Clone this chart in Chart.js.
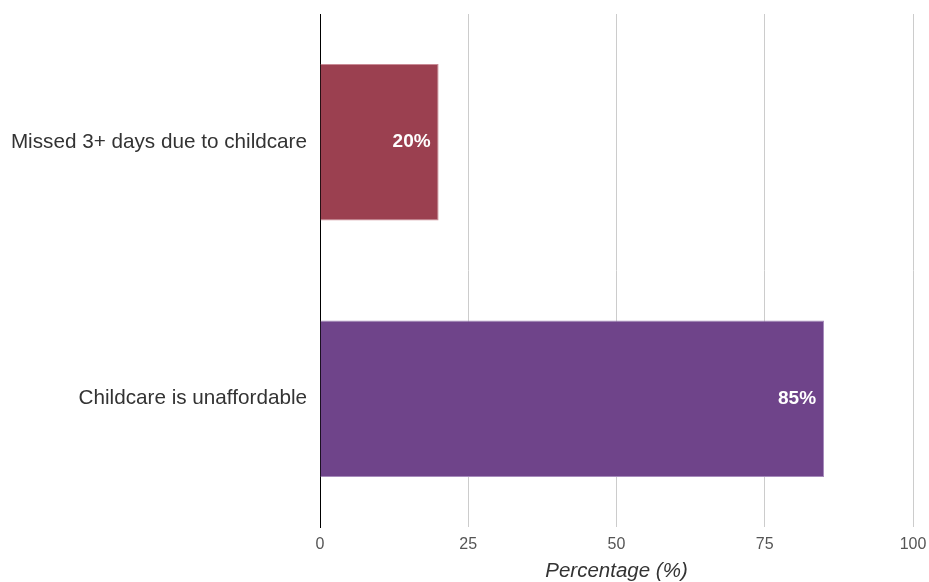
<!DOCTYPE html>
<html lang="en">
<head>
    <meta charset="UTF-8">
    <title>Childcare Survey</title>
    <style>
        body {
            margin: 0;
            padding: 0;
            background: #fff;
        }
        .chart-box {
            width: 929px;
            height: 582px;
        }
    </style>
</head>
<body>
    <div class="chart-box">
        <canvas id="childcareChart"></canvas>
    </div>

    <script src="https://cdn.jsdelivr.net/npm/chart.js"></script>
    <script>
        const categories = ['Missed 3+ days due to childcare', 'Childcare is unaffordable'];
        const percentages = [20, 85];
        const barColors = ['#9b4050', '#6f448a'];
        const barEdges = ['#c98a95', '#a68bbb'];
        const tickValues = [0, 25, 50, 75, 100];

        const fontFace = '"Liberation Sans", Arial, sans-serif';

        // white value labels inside the right end of each bar
        const valueLabels = {
            id: 'valueLabels',
            afterDatasetsDraw(chart) {
                const ctx = chart.ctx;
                const meta = chart.getDatasetMeta(0);
                ctx.save();
                ctx.font = 'bold 19px ' + fontFace;
                ctx.fillStyle = '#ffffff';
                ctx.textAlign = 'right';
                ctx.textBaseline = 'middle';
                meta.data.forEach((bar, i) => {
                    ctx.fillText(percentages[i] + '%', bar.x - 8, bar.y);
                });
                ctx.restore();
            }
        };

        const ctx = document.getElementById('childcareChart').getContext('2d');
        new Chart(ctx, {
            type: 'bar',
            data: {
                labels: categories,
                datasets: [{
                    data: percentages,
                    backgroundColor: barColors,
                    borderColor: barEdges,
                    borderWidth: 1,
                    borderSkipped: 'start',
                    barPercentage: 0.61,
                    categoryPercentage: 1.0
                }]
            },
            options: {
                indexAxis: 'y',
                responsive: true,
                maintainAspectRatio: false,
                animation: false,
                layout: {
                    padding: { top: 14, right: 16, left: 0, bottom: 0 }
                },
                plugins: {
                    legend: { display: false },
                    tooltip: { enabled: false }
                },
                scales: {
                    x: {
                        min: 0,
                        max: 100,
                        afterBuildTicks: (scale) => {
                            scale.ticks = tickValues.map(v => ({ value: v }));
                        },
                        afterFit: (scale) => {
                            scale.height = 55;
                            scale.paddingLeft = 0;
                            scale.paddingRight = 0;
                        },
                        grid: {
                            color: '#cccccc',
                            drawTicks: false
                        },
                        border: { display: false },
                        ticks: {
                            color: '#555555',
                            font: { family: fontFace, size: 16 },
                            padding: 8
                        },
                        title: {
                            display: true,
                            text: 'Percentage (%)',
                            color: '#333333',
                            font: { family: fontFace, size: 20.5, style: 'italic' },
                            padding: { top: 0, bottom: -2 }
                        }
                    },
                    y: {
                        afterFit: (scale) => {
                            scale.width = 320;
                            scale.paddingTop = 0;
                            scale.paddingBottom = 0;
                        },
                        grid: {
                            display: false,
                            drawTicks: false
                        },
                        border: { color: '#000000', width: 1 },
                        ticks: {
                            color: '#333333',
                            font: { family: fontFace, size: 20.7 },
                            padding: 13
                        }
                    }
                }
            },
            plugins: [valueLabels]
        });
    </script>
</body>
</html>
